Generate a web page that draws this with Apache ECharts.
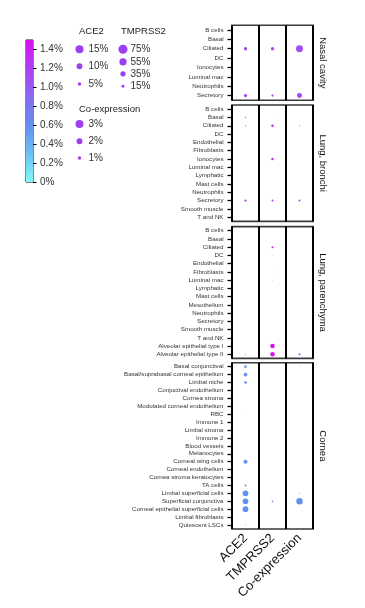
<!DOCTYPE html>
<html><head><meta charset="utf-8">
<script src="https://cdn.jsdelivr.net/npm/echarts@6/dist/echarts.min.js"></script>
<style>html,body{margin:0;padding:0;background:#fff}#c{width:365px;height:608px}</style>
</head><body><div id="c"></div>
<script>
// ---------- data ----------
const genes = ['ACE2', 'TMPRSS2', 'Co-expression'];
const panelNames = ['Nasal cavity', 'Lung, bronchi', 'Lung, parenchyma', 'Cornea'];

const nasalCells = ['B cells','Basal','Ciliated','DC','Ionocytes','Luminal mac','Neutrophils','Secretory'];
const nasalAce2Pct = [0,0,4.6,0,0,0,0,4.6];
const nasalAce2Expr = [0,0,1.15,0,0,0,0,1.15];
const nasalTmprssPct = [0,0,18,0,0,0,0,10.6];
const nasalTmprssExpr = [0,0,1.15,0,0,0,0,1.2];
const nasalCoPct = [0,0,2.5,0,0,0,0,1.6];
const nasalCoExpr = [0,0,1.1,0,0,0,0,1.15];

const bronchiCells = ['B cells','Basal','Ciliated','DC','Endothelial','Fibroblasts','Ionocytes','Luminal mac','Lymphatic','Mast cells','Neutrophils','Secretory','Smooth muscle','T and NK'];
const bronchiAce2Pct = [0,1.2,1.2,0,0,0,0,0,0,0,0,2.85,0,0];
const bronchiAce2Expr = [0,1.2,1.0,0,0,0,0,0,0,0,0,1.2,0,0];
const bronchiTmprssPct = [0,1,12,0,0,0,12,0,0,0,0,8.6,0,0];
const bronchiTmprssExpr = [0,1.3,1.3,0,0,0,1.3,0,0,0,0,1.2,0,0];
const bronchiCoPct = [0,0,0.19,0,0,0,0,0,0,0,0,0.47,0,0];
const bronchiCoExpr = [0,0,1.2,0,0,0,0,0,0,0,0,1.2,0,0];

const parenCells = ['B cells','Basal','Ciliated','DC','Endothelial','Fibroblasts','Luminal mac','Lymphatic','Mast cells','Mesothelium','Neutrophils','Secretory','Smooth muscle','T and NK','Alveolar epithelial type I','Alveolar epithelial type II'];
const parenAce2Pct = [0,0,0,0,0,0,0,0,0,0,0,0,0,0,0,0.93];
const parenAce2Expr = [0,0,0,0,0,0,0,0,0,0,0,0,0,0,0,1.1];
const parenTmprssPct = [0,0,8.6,1.5,0,1.5,1.5,0,0,0,0,0,0,0,27.7,27.7];
const parenTmprssExpr = [0,0,1.45,1.0,0,1.0,1.0,0,0,0,0,0,0,0,1.5,1.5];
const parenCoPct = [0,0,0,0,0,0,0,0,0,0,0,0,0,0,0,0.47];
const parenCoExpr = [0,0,0,0,0,0,0,0,0,0,0,0,0,0,0,1.1];

const corneaCells = ['Basal conjunctival','Basal/suprabasal corneal epithelium','Limbal niche','Conjuctival endothelium','Cornea stroma','Modulated corneal endothelium','RBC','Immune 1','Limbal stroma','Immune 2','Blood vessels','Melanocytes','Corneal wing cells','Corneal endothelium','Cornea stroma keratocytes','TA cells','Limbal superficial cells','Superficial conjunctiva','Corneal epithelial superficial cells','Limbal fibroblasts','Quiescent LSCs'];
const corneaAce2Pct = [3.5,5.35,3.5,0,0,0,0.69,0,0,0,0,0,5.96,0,0,2.36,9.5,9.5,9.5,0,0.93];
const corneaAce2Expr = [0.55,0.6,0.6,0,0,0,0.6,0,0,0,0,0,0.6,0,0,0.6,0.6,0.6,0.6,0,0.6];
const corneaTmprssPct = [0,0,0,0,0,0,0,0,0,0,0,0,0,0,0,0,0,6.9,0,0,0];
const corneaTmprssExpr = [0,0,0,0,0,0,0,0,0,0,0,0,0,0,0,0,0,0.6,0,0,0];
const corneaCoPct = [0.14,0,0,0,0,0,0,0,0,0,0,0,0,0,0,0,0.19,2.28,0,0,0];
const corneaCoExpr = [0.6,0,0,0,0,0,0,0,0,0,0,0,0,0,0,0,0.6,0.6,0,0,0];

const ace2LegendPct = [15, 10, 5];
const tmprssLegendPct = [75, 55, 35, 15];
const coLegendPct = [3, 2, 1];

const colorMin = 0, colorMax = 1.5, colorTickStep = 0.2;
const colorStops = [[0,'#80fafa'],[0.3,'#6cc0f4'],[0.6,'#6490f0'],[0.9,'#8a6af0'],[1.2,'#b040f0'],[1.5,'#d810ee']];

// ---------- build ----------
const sizeFns = [
  p => 1.05 * Math.pow(p, 0.75),
  p => 0.44 * Math.pow(p, 0.7),
  p => 3.5 * Math.pow(p, 0.75)
];
const panels = [
  {cells: nasalCells, pct: [nasalAce2Pct, nasalTmprssPct, nasalCoPct], expr: [nasalAce2Expr, nasalTmprssExpr, nasalCoExpr], top: 25.3, height: 75},
  {cells: bronchiCells, pct: [bronchiAce2Pct, bronchiTmprssPct, bronchiCoPct], expr: [bronchiAce2Expr, bronchiTmprssExpr, bronchiCoExpr], top: 105, height: 116.4},
  {cells: parenCells, pct: [parenAce2Pct, parenTmprssPct, parenCoPct], expr: [parenAce2Expr, parenTmprssExpr, parenCoExpr], top: 226.6, height: 131.8},
  {cells: corneaCells, pct: [corneaAce2Pct, corneaTmprssPct, corneaCoPct], expr: [corneaAce2Expr, corneaTmprssExpr, corneaCoExpr], top: 362.7, height: 166.3}
];
const FONT = 'Liberation Sans, Arial, Helvetica, sans-serif';
const gridLeft = 232, gridWidth = 81;

const grids = [], xAxes = [], yAxes = [], series = [], graphics = [];
panels.forEach((p, i) => {
  grids.push({left: gridLeft, width: gridWidth, top: p.top, height: p.height, show: true,
    borderColor: '#3a3a3a', borderWidth: 1.6, backgroundColor: '#fff'});
  const last = i === panels.length - 1;
  xAxes.push({type: 'category', gridIndex: i, data: genes, boundaryGap: true,
    axisLine: {show: false}, axisTick: {show: false},
    splitLine: {show: true, lineStyle: {color: '#000', width: 2}},
    axisLabel: {show: last, rotate: 45, fontSize: 13, color: '#111', fontFamily: FONT, margin: 7, interval: 0}});
  yAxes.push({type: 'category', gridIndex: i, data: p.cells, inverse: true, boundaryGap: true,
    axisLine: {show: false},
    axisTick: {show: true, alignWithLabel: true, length: 4.5, lineStyle: {color: '#000', width: 1.3}},
    axisLabel: {fontSize: 6.2, color: '#333', fontFamily: FONT, margin: 8.5, interval: 0},
    splitLine: {show: false}});
  const data = [];
  for (let g = 0; g < 3; g++) {
    p.pct[g].forEach((v, r) => { if (v > 0) data.push([g, r, v, p.expr[g][r]]); });
  }
  series.push({type: 'scatter', xAxisIndex: i, yAxisIndex: i, data: data,
    symbolSize: v => sizeFns[v[0]](v[2]), itemStyle: {opacity: 1}, silent: true});
  graphics.push({type: 'text', x: 322.5, y: p.top + p.height / 2, rotation: -Math.PI / 2,
    style: {text: panelNames[i], font: '9.5px ' + FONT, fill: '#111', textAlign: 'center', textVerticalAlign: 'middle'}});
});

// colour bar grid
grids.push({left: 26, top: 40, width: 7, height: 142, show: true, borderColor: '#111', borderWidth: 1});
xAxes.push({type: 'category', gridIndex: 4, data: ['c'], show: false});
yAxes.push({type: 'value', gridIndex: 4, min: colorMin, max: colorMax, interval: colorTickStep, position: 'right',
  axisLine: {show: false}, splitLine: {show: false},
  axisTick: {show: true, length: 3.5, lineStyle: {color: '#000', width: 1}},
  axisLabel: {showMaxLabel: false, margin: 7, fontSize: 10, color: '#333', fontFamily: FONT,
    formatter: v => (v === 0 ? '0' : v.toFixed(1)) + '%'}});
series.push({type: 'bar', xAxisIndex: 4, yAxisIndex: 4, data: [colorMax], barWidth: '100%', silent: true,
  itemStyle: {color: new echarts.graphic.LinearGradient(0, 0, 0, 1,
    colorStops.map(s => ({offset: 1 - (s[0] - colorMin) / (colorMax - colorMin), color: s[1]})).reverse())}});

// size legend
const legendColor = '#9b3ff0';
function legendBlock(title, tx, ty, pcts, fn, dx, ys, lx) {
  if (title) graphics.push({type: 'text', x: tx, y: ty, style: {text: title, font: '9.5px ' + FONT, fill: '#222', textVerticalAlign: 'middle'}});
  pcts.forEach((p, k) => {
    graphics.push({type: 'circle', shape: {cx: dx, cy: ys[k], r: fn(p) / 2}, style: {fill: legendColor}});
    graphics.push({type: 'text', x: lx, y: ys[k], style: {text: p + '%', font: '10px ' + FONT, fill: '#333', textVerticalAlign: 'middle'}});
  });
}
legendBlock('ACE2', 79, 31.5, ace2LegendPct, sizeFns[0], 79.5, [49.3, 66.3, 84], 88.5);
legendBlock('TMPRSS2', 121, 31.5, tmprssLegendPct, sizeFns[1], 123, [49.3, 61.8, 73.8, 86.3], 130.5);
legendBlock('Co-expression', 79, 109.5, coLegendPct, sizeFns[2], 79.5, [124, 141.3, 158], 88.5);

const chart = echarts.init(document.getElementById('c'), null, {renderer: 'canvas'});
chart.setOption({
  animation: false,
  textStyle: {fontFamily: FONT},
  grid: grids, xAxis: xAxes, yAxis: yAxes, series: series,
  visualMap: {type: 'continuous', show: false, min: colorMin, max: colorMax, dimension: 3, seriesIndex: [0,1,2,3],
    inRange: {color: colorStops.map(s => s[1])}},
  graphic: graphics
});
</script></body></html>
